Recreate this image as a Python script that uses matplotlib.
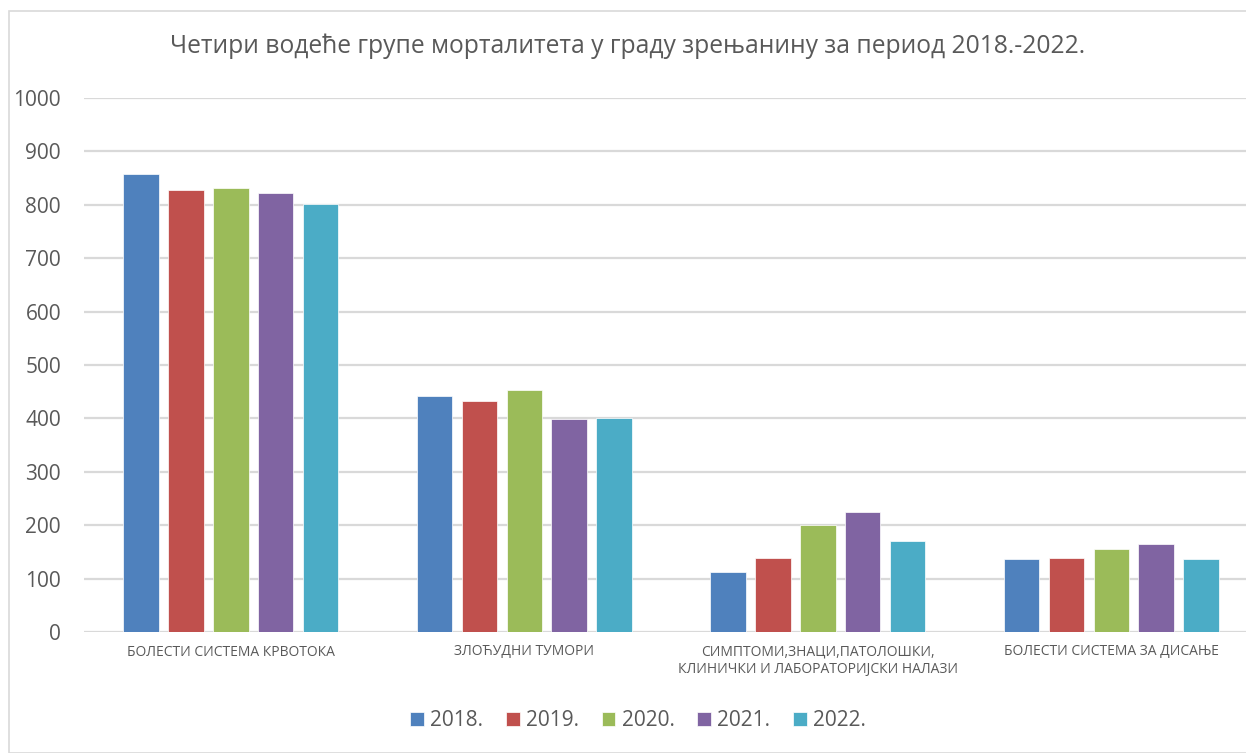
import matplotlib.pyplot as plt
import numpy as np
from matplotlib.patches import Rectangle

plt.rcParams['font.family'] = ['Open Sans', 'DejaVu Sans']

categories = ["БОЛЕСТИ СИСТЕМА КРВОТОКА",
              "ЗЛОЋУДНИ ТУМОРИ",
              "СИМПТОМИ,ЗНАЦИ,ПАТОЛОШКИ,\nКЛИНИЧКИ И ЛАБОРАТОРИЈСКИ НАЛАЗИ",
              "БОЛЕСТИ СИСТЕМА ЗА ДИСАЊЕ"]
years = ["2018.", "2019.", "2020.", "2021.", "2022."]
v2018 = [858, 442, 113, 137]
v2019 = [828, 433, 139, 139]
v2020 = [832, 454, 201, 156]
v2021 = [823, 399, 225, 164]
v2022 = [801, 400, 170, 137]
series = [v2018, v2019, v2020, v2021, v2022]
colors = ['#4F81BD', '#C0504D', '#9BBB59', '#8064A2', '#4BACC6']
title = "Четири водеће групе морталитета у граду зрењанину за период 2018.-2022."
text_color = '#595959'
grid_color = '#D9D9D9'

fig = plt.figure(figsize=(12.46, 7.53), dpi=100)
W, H = 1246, 753
ax = fig.add_axes([84 / W, 1 - 632 / H, 1 - 84 / W, (632 - 98) / H])

x = np.arange(len(categories))
width = 0.121
pitch = 0.153
for i, (vals, col, yr) in enumerate(zip(series, colors, years)):
    ax.bar(x + (i - 2) * pitch, vals, width=width, color=col, label=yr,
           edgecolor='white', linewidth=0.5, zorder=3)

ax.set_ylim(0, 1000)
ax.set_yticks(np.arange(0, 1001, 100))
ax.set_xlim(-0.5, 3.5 - 12 / 293)
ax.set_xticks(x)
ax.set_xticklabels(categories, fontsize=10, color=text_color, linespacing=1.2)
ax.tick_params(axis='y', labelsize=15, labelcolor=text_color, length=0, pad=16.5)
ax.tick_params(axis='x', length=0, pad=9)
ax.grid(axis='y', color=grid_color, linewidth=1.6, zorder=0)
for s in ax.spines.values():
    s.set_visible(False)

fig.text(628 / W, 1 - 46 / H, title, ha='center', va='center',
         fontsize=17.7, color=text_color)

leg = fig.legend(loc='center', bbox_to_anchor=(638 / W, 1 - 721 / H), ncol=5,
                 frameon=False, fontsize=15, handlelength=0.65, handleheight=0.65,
                 handletextpad=0.3, columnspacing=1.1)
for t in leg.get_texts():
    t.set_color(text_color)

fig.patches.append(Rectangle((8.5 / W, 0), 1.2, 1 - 11 / H, transform=fig.transFigure,
                             fill=False, edgecolor=grid_color, linewidth=1.2))

fig.savefig("out.png", dpi=100)
